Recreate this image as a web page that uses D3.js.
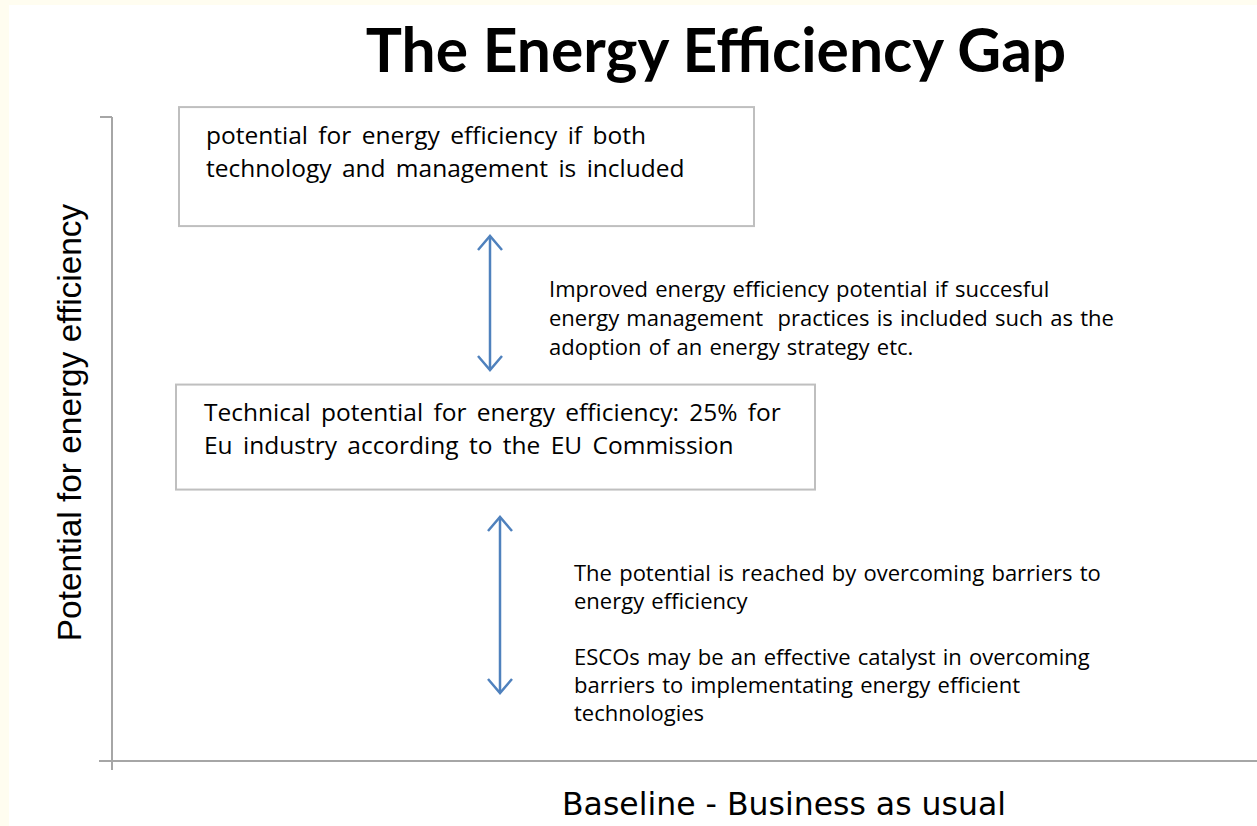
<!DOCTYPE html>
<html>
<head>
<meta charset="utf-8">
<script src="https://cdn.jsdelivr.net/npm/d3@7"></script>
<style>
  html, body { margin: 0; padding: 0; background: #fffdf0; }
  svg { display: block; }
  text { white-space: pre; }
</style>
</head>
<body>
<div id="chart"></div>
<script>
// potential levels (relative units, baseline = 0)
const levelNames = ["Baseline", "Technical potential", "Technology and management"];
const levelValues = [0, 50.3, 92.3];

// text in the two boxes
const boxLines = [
    ["potential for energy efficiency if both", "technology and management is included"],
    ["Technical potential for energy efficiency: 25% for", "Eu industry according to the EU Commission"]
];
const boxLevels = [92.3, 50.3];

// notes beside the gap arrows
const gapFrom = [50.3, 0];
const gapTo = [92.3, 50.3];
const gapNotes = [
    ["Improved energy efficiency potential if succesful",
     "energy management  practices is included such as the",
     "adoption of an energy strategy etc."],
    ["The potential is reached by overcoming barriers to",
     "energy efficiency",
     "",
     "ESCOs may be an effective catalyst in overcoming",
     "barriers to implementating energy efficient",
     "technologies"]
];

const titleText = "The Energy Efficiency Gap";
const xLabel = "Baseline - Business as usual";
const yLabel = "Potential for energy efficiency";

const W = 1257, H = 826;

const svg = d3.select("#chart").append("svg")
    .attr("width", W)
    .attr("height", H);

// white page with a thin cream edge on top and left
svg.append("rect")
    .attr("x", 9).attr("y", 5)
    .attr("width", W - 9).attr("height", H - 5)
    .attr("fill", "#ffffff");

// scales
const x = d3.scaleLinear().domain([0, 100]).range([112, 1257]);
const y = d3.scaleLinear().domain([0, 100]).range([761, 117]);

const axisColor = "#a6a6a6";

// axes (plain lines, no ticks)
svg.append("line")
    .attr("x1", x(0)).attr("x2", x(0))
    .attr("y1", y(100)).attr("y2", y(0) + 9)
    .attr("stroke", axisColor).attr("stroke-width", 2);
svg.append("line")
    .attr("x1", x(0) - 12).attr("x2", x(0))
    .attr("y1", y(100)).attr("y2", y(100))
    .attr("stroke", axisColor).attr("stroke-width", 2);
svg.append("line")
    .attr("x1", x(0) - 13).attr("x2", x(100))
    .attr("y1", y(0)).attr("y2", y(0))
    .attr("stroke", axisColor).attr("stroke-width", 2);

// title
svg.append("text")
    .attr("x", 716)
    .attr("y", 72)
    .attr("text-anchor", "middle")
    .style("font-family", "Lato, 'Open Sans', sans-serif")
    .style("font-weight", "bold")
    .style("font-size", "60.5px")
    .style("fill", "#000")
    .text(titleText);

// axis labels
svg.append("text")
    .attr("transform", `translate(81,${(205 + 640) / 2}) rotate(-90)`)
    .attr("text-anchor", "middle")
    .style("font-family", "'Liberation Sans', Arial, sans-serif")
    .style("font-size", "33.4px")
    .style("fill", "#000")
    .text(yLabel);

svg.append("text")
    .attr("x", 784)
    .attr("y", 815)
    .attr("text-anchor", "middle")
    .style("font-family", "'DejaVu Sans', sans-serif")
    .style("font-size", "31.5px")
    .style("fill", "#000")
    .text(xLabel);

// boxes
const boxLayout = [
    { x0: 179, x1: 754, h: 119, textX: 206, firstLine: -22.5 },
    { x0: 176, x1: 815, h: 105, textX: 204, firstLine: -16.5 }
];

const boxes = svg.selectAll(".box")
    .data(boxLines.map((lines, i) => ({ lines, level: boxLevels[i], lay: boxLayout[i] })))
    .enter().append("g")
    .attr("class", "box");

boxes.append("rect")
    .attr("x", d => d.lay.x0)
    .attr("y", d => y(d.level) - d.lay.h / 2)
    .attr("width", d => d.lay.x1 - d.lay.x0)
    .attr("height", d => d.lay.h)
    .attr("fill", "#fff")
    .attr("stroke", "#bfbfbf")
    .attr("stroke-width", 2);

boxes.each(function(d) {
    d3.select(this).selectAll("text")
        .data(d.lines)
        .enter().append("text")
        .attr("x", d.lay.textX)
        .attr("y", (t, j) => y(d.level) + d.lay.firstLine + j * 33)
        .style("font-family", "'Open Sans', Lato, sans-serif")
        .style("font-size", "24.5px")
        .style("word-spacing", "4px")
        .style("fill", "#000")
        .text(t => t);
});

// gap arrows
const arrowBlue = "#4f81bd";
const arrowLayout = [
    { ax: 490, top: 236, bottom: 370, noteX: 549, noteY: 297, lh: 29 },
    { ax: 500, top: 517, bottom: 693, noteX: 574, noteY: 581, lh: 28 }
];

const gaps = svg.selectAll(".gap")
    .data(gapNotes.map((lines, i) => ({ lines, from: gapFrom[i], to: gapTo[i], lay: arrowLayout[i] })))
    .enter().append("g")
    .attr("class", "gap");

gaps.append("line")
    .attr("x1", d => d.lay.ax).attr("x2", d => d.lay.ax)
    .attr("y1", d => d.lay.top).attr("y2", d => d.lay.bottom)
    .attr("stroke", arrowBlue).attr("stroke-width", 2.5);

gaps.append("path")
    .attr("d", d => `M${d.lay.ax - 12},${d.lay.top + 14} L${d.lay.ax},${d.lay.top} L${d.lay.ax + 12},${d.lay.top + 14}`)
    .attr("fill", "none").attr("stroke", arrowBlue).attr("stroke-width", 2.5);

gaps.append("path")
    .attr("d", d => `M${d.lay.ax - 12},${d.lay.bottom - 14} L${d.lay.ax},${d.lay.bottom} L${d.lay.ax + 12},${d.lay.bottom - 14}`)
    .attr("fill", "none").attr("stroke", arrowBlue).attr("stroke-width", 2.5);

gaps.each(function(d) {
    d3.select(this).selectAll("text.note")
        .data(d.lines)
        .enter().append("text")
        .attr("class", "note")
        .attr("x", d.lay.noteX)
        .attr("y", (t, j) => d.lay.noteY + j * d.lay.lh)
        .style("font-family", "'Open Sans', Lato, sans-serif")
        .style("font-size", "22px")
        .style("word-spacing", "1.5px")
        .style("fill", "#000")
        .text(t => t);
});
</script>
</body>
</html>
